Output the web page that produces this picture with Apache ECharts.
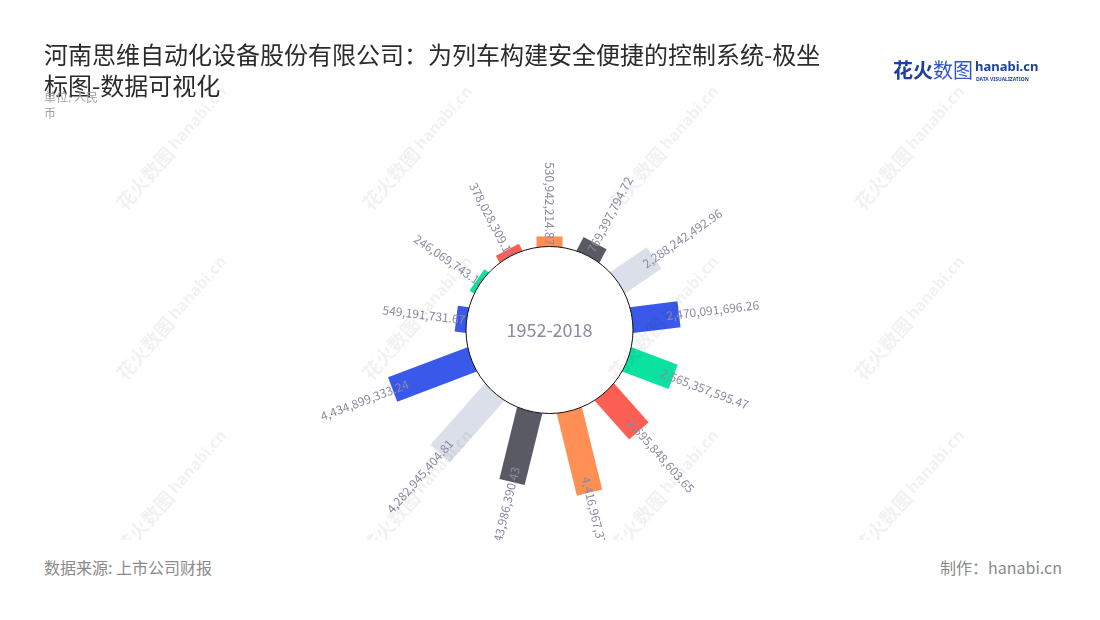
<!DOCTYPE html>
<html>
<head>
<meta charset="utf-8">
<script src="https://cdn.jsdelivr.net/npm/echarts@6/dist/echarts.min.js"></script>
<style>
html,body{margin:0;padding:0;background:#fff;width:1100px;height:620px;overflow:hidden;font-family:"Noto Sans CJK SC","Noto Sans",sans-serif}
#chart{position:absolute;left:0;top:0;width:1100px;height:540px}
.foot{position:absolute;top:557px;font-size:16px;color:#8a8a8a;line-height:20px;white-space:nowrap}
</style>
</head>
<body>
<div id="chart"></div>
<div class="foot" id="src" style="left:44px"></div>
<div class="foot" id="maker" style="right:38px"></div>
<script>
// ---- texts ----
const titleText = '河南思维自动化设备股份有限公司：为列车构建安全便捷的控制系统-极坐标图-数据可视化';
const unitText = '单位: 人民币';
const periodText = '1952-2018';
const sourceText = '数据来源: 上市公司财报';
const makerText = '制作：hanabi.cn';

// ---- data ----
const categories = ['1', '2', '3', '4', '5', '6', '7', '8', '9', '10', '11', '12', '13'];
const values = [
  530942214.87, 769397794.72, 2288242492.96, 2470091696.26, 2565357595.47,
  2695848603.65, 4416967373.52, 3843986390.43, 4282945404.81, 4434899333.24,
  549191731.67, 246069743.18, 378028309.15
];

// ---- styles ----
const barColors = ['#ff8f55', '#5a5a64', '#dadfe9', '#3a59ea', '#0ce2a0', '#fe5f55',
                   '#ff8f55', '#5a5a64', '#dadfe9', '#3a59ea', '#3a59ea', '#0ce2a0', '#fe5f55'];
const labelColor = '#8a8aa1';

document.getElementById('src').textContent = sourceText;
document.getElementById('maker').textContent = makerText;

function fmt(v) {
  const s = v.toFixed(2);
  const parts = s.split('.');
  return parts[0].replace(/\B(?=(\d{3})+(?!\d))/g, ',') + '.' + parts[1];
}

const chart = echarts.init(document.getElementById('chart'), null, {renderer: 'canvas'});

// watermark graphics
const wmGraphics = [];
const wmXs = [172, 418, 664, 910];
const wmYs = [148, 318, 492];
wmYs.forEach(function (y) {
  wmXs.forEach(function (x) {
    wmGraphics.push({
      type: 'text', x: x, y: y, rotation: Math.PI * 0.27, silent: true, z: 100,
      style: {
        text: '{a|花火数图} {b|hanabi.cn}',
        align: 'center', verticalAlign: 'middle',
        rich: {
          a: {fontSize: 19, fontWeight: 'bold', fill: 'rgba(0,0,0,0.055)', fontFamily: 'Noto Sans CJK SC'},
          b: {fontSize: 16, fontWeight: 'bold', fill: 'rgba(0,0,0,0.055)', fontFamily: 'Noto Sans'}
        }
      }
    });
  });
});

const option = {
  animation: false,
  backgroundColor: '#fff',
  title: [{
    text: titleText, left: 44, top: 39, padding: 0,
    textStyle: {fontSize: 24, fontWeight: 'normal', color: '#2b2b2b', width: 782, overflow: 'break',
      lineHeight: 31, fontFamily: 'Noto Sans CJK SC'}
  }, {
    text: unitText, left: 44, top: 89, padding: 0,
    textStyle: {fontSize: 12, fontWeight: 'normal', color: '#a0a0a0', width: 62, overflow: 'break',
      lineHeight: 16, fontFamily: 'Noto Sans CJK SC'}
  }],
  graphic: [{
    type: 'text', left: 893, top: 60, silent: true,
    style: {
      text: '{a|花火}{b|数图}',
      rich: {
        a: {fontSize: 20, fontWeight: 'bold', fill: '#1d3f9e', fontFamily: 'Noto Sans CJK SC'},
        b: {fontSize: 20, fontWeight: 'normal', fill: '#3257c4', fontFamily: 'Noto Sans CJK SC'}
      }
    }
  }, {
    type: 'text', left: 975, top: 61, silent: true,
    style: {text: 'hanabi.cn', fontSize: 13, fontWeight: 'bold', fill: '#1d3f9e', fontFamily: 'Noto Sans'}
  }, {
    type: 'text', left: 976, top: 77, silent: true,
    style: {text: 'DATA VISUALIZATION', fontSize: 5, fontWeight: 'bold', fill: '#1d3f9e', fontFamily: 'Noto Sans'}
  }].concat(wmGraphics),
  polar: {
    center: [549.5, 330],
    radius: [83.5, 178.5]
  },
  angleAxis: {
    type: 'category',
    data: categories,
    boundaryGap: false,
    startAngle: 90,
    clockwise: true,
    show: false
  },
  radiusAxis: {
    type: 'value',
    min: 0,
    max: 5000000000,
    show: false
  },
  series: [{
    type: 'custom',
    coordinateSystem: 'polar',
    z: 2,
    silent: true,
    data: values.map(function (v, i) { return [v, categories[i]]; }),
    renderItem: function (params, api) {
      const cs = params.coordSys;
      const idx = params.dataIndex;
      const pEnd = api.coord([api.value(0), api.value(1)]);
      const dx = pEnd[0] - cs.cx, dy = pEnd[1] - cs.cy;
      const len = Math.sqrt(dx * dx + dy * dy);
      const ux = dx / len, uy = dy / len;
      const nx = -uy, ny = ux;
      const hw = 13;
      const rs = cs.r0 - 5;
      const sx = cs.cx + ux * rs, sy = cs.cy + uy * rs;
      const pts = [
        [sx + nx * hw, sy + ny * hw],
        [pEnd[0] + nx * hw, pEnd[1] + ny * hw],
        [pEnd[0] - nx * hw, pEnd[1] - ny * hw],
        [sx - nx * hw, sy - ny * hw]
      ];
      const barLen = len - cs.r0;
      const off = 8 + 0.1 * barLen;
      const lx = pEnd[0] - ux * off, ly = pEnd[1] - uy * off;
      const theta = Math.atan2(-uy, ux);
      const right = ux > 1e-6;
      return {
        type: 'group',
        children: [{
          type: 'polygon',
          shape: {points: pts},
          style: {fill: barColors[idx]}
        }, {
          type: 'text',
          x: lx, y: ly,
          rotation: right ? theta : theta - Math.PI,
          z2: 10,
          style: {
            text: fmt(values[idx]),
            align: right ? 'left' : 'right',
            verticalAlign: 'middle',
            fill: labelColor,
            fontSize: 12,
            fontFamily: 'Noto Sans CJK SC'
          }
        }]
      };
    }
  }, {
    type: 'pie',
    center: [549.5, 330],
    radius: [0, 83.5],
    z: 5,
    silent: true,
    emphasis: {disabled: true},
    itemStyle: {color: '#fff', borderColor: '#111', borderWidth: 1},
    label: {show: true, position: 'center', formatter: '{b}', fontSize: 18, color: labelColor,
      fontFamily: 'Noto Sans CJK SC', padding: [6, 0, 0, 0]},
    labelLine: {show: false},
    data: [{value: 1, name: periodText}]
  }]
};
chart.setOption(option);
</script>
</body>
</html>
